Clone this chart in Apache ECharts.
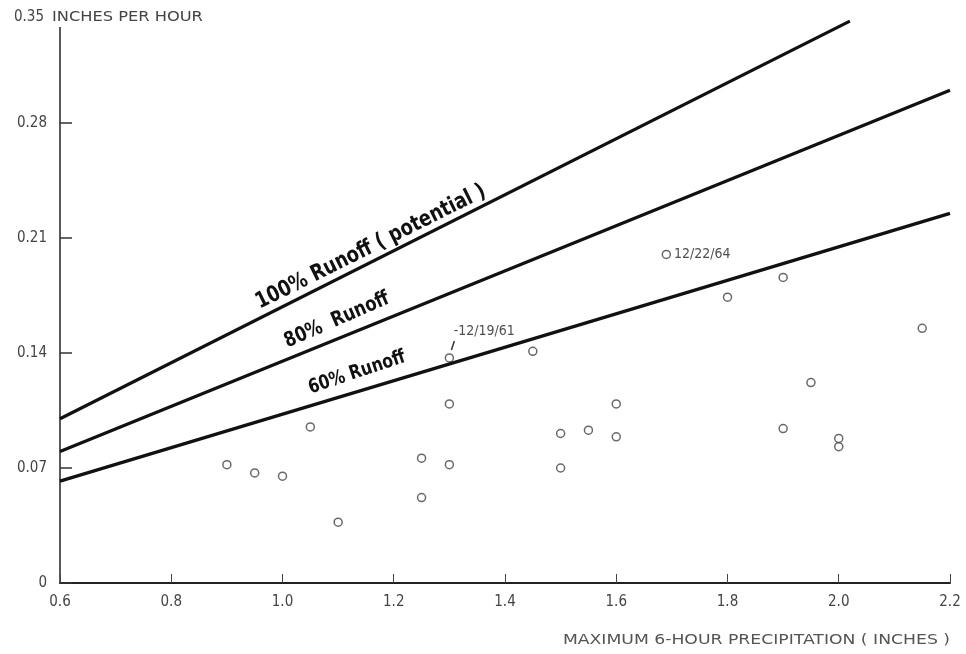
<!DOCTYPE html>
<html><head><meta charset="utf-8">
<script src="https://cdn.jsdelivr.net/npm/echarts@6/dist/echarts.min.js"></script>
<style>html,body{margin:0;padding:0;background:#fff}#c{width:966px;height:654px}</style>
</head><body><div id="c"></div>
<script>
// Data
const precip    = [0.90,0.95,1.00,1.05,1.10,1.25,1.25,1.30,1.30,1.30,1.45,1.50,1.50,1.55,1.60,1.60,1.69,1.80,1.90,1.90,1.95,2.00,2.00,2.15];
const intensity = [0.072,0.067,0.065,0.095,0.037,0.052,0.076,0.137,0.109,0.072,0.141,0.091,0.070,0.093,0.109,0.089,0.200,0.174,0.186,0.094,0.122,0.088,0.083,0.155];
const pointNotes = {7: '-12/19/61', 16: '12/22/64'};

const runoffNames = ['100% Runoff ( potential )', '80%  Runoff', '60% Runoff'];
const runoffX = [[0.6, 2.02], [0.6, 2.2], [0.6, 2.2]];
const runoffY = [[0.100, 0.342], [0.080, 0.300], [0.062, 0.225]];
// label anchor in data coords (center of text) and rotation in degrees
const runoffLabelAt = [[1.159, 0.2045], [1.098, 0.160], [1.134, 0.128]];
const runoffLabelRot = [26.5, 23.5, 18.5];
const runoffLabelSize = [20.5, 19, 18];

const xTicks = [0.6, 0.8, 1.0, 1.2, 1.4, 1.6, 1.8, 2.0, 2.2];
const yTicks = [0, 0.07, 0.14, 0.21, 0.28, 0.35];
const xTitle = 'MAXIMUM 6-HOUR PRECIPITATION ( INCHES )';
const yTitle = 'INCHES PER HOUR';

const FONT = "'Liberation Sans Narrow','DejaVu Sans Condensed','Liberation Sans',sans-serif";
const WIDE = "'DejaVu Sans','Liberation Sans',sans-serif";
const chart = echarts.init(document.getElementById('c'), null, {renderer: 'canvas'});

const scatterData = precip.map((x, i) => {
  const item = {value: [x, intensity[i]]};
  if (pointNotes[i]) {
    if (i === 7) {
      item.label = {show: true, formatter: pointNotes[i], position: [9, -29], align: 'left', verticalAlign: 'top',
        fontFamily: FONT, fontSize: 14, color: '#222'};
    } else {
      item.label = {show: true, formatter: pointNotes[i], position: 'right', distance: 3,
        fontFamily: FONT, fontSize: 14, color: '#222'};
    }
  }
  return item;
});

const series = [{
  type: 'scatter',
  data: scatterData,
  symbol: 'circle',
  symbolSize: 8,
  itemStyle: {color: '#fff', borderColor: '#444', borderWidth: 1.5},
  z: 2
}];
runoffNames.forEach((n, k) => {
  series.push({
    type: 'line', name: n,
    data: runoffX[k].map((x, j) => [x, runoffY[k][j]]),
    symbol: 'none',
    lineStyle: {color: '#111', width: 3.2},
    z: 3, silent: true
  });
});

chart.setOption({
  animation: false,
  backgroundColor: '#fff',
  grid: {left: 60, right: 16, top: 8, bottom: 71, containLabel: false},
  xAxis: {
    type: 'value', min: 0.6, max: 2.2, interval: 0.2,
    axisLine: {lineStyle: {color: '#222', width: 2}},
    axisTick: {inside: true, length: 9, lineStyle: {color: '#444', width: 1}},
    splitLine: {show: false},
    axisLabel: {margin: 12, fontFamily: FONT, fontSize: 15, color: '#444',
      formatter: v => (Math.round(v * 10) / 10).toFixed(1)}
  },
  yAxis: {
    type: 'value', min: 0, max: 0.35, interval: 0.07,
    axisLine: {show: true, lineStyle: {color: '#222', width: 1.5}},
    axisTick: {show: true, inside: true, length: 12, lineStyle: {color: '#333', width: 1.5}},
    splitLine: {show: false},
    axisLabel: {margin: 13, fontFamily: FONT, fontSize: 15, color: '#444',
      formatter: v => v === 0 ? '0' : (Math.abs(v - 0.35) < 1e-6 ? '' : v.toFixed(2))}
  },
  series: series
});

// Annotations positioned via the chart's own scales
const graphics = [];
runoffNames.forEach((n, k) => {
  const p = chart.convertToPixel({gridIndex: 0}, runoffLabelAt[k]);
  graphics.push({
    type: 'text', x: p[0], y: p[1], rotation: runoffLabelRot[k] * Math.PI / 180,
    scaleX: 0.97, scaleY: 1.08,
    style: {text: n, font: "bold " + runoffLabelSize[k] + "px " + FONT, fill: '#111', textAlign: 'center', textVerticalAlign: 'middle'},
    z: 10
  });
});
graphics.push({
  type: 'text', x: 44, y: 17,
  style: {text: '0.35', font: "15px " + FONT, fill: '#444', textAlign: 'right', textVerticalAlign: 'middle'},
  z: 10
});
graphics.push({
  type: 'rect', shape: {x: 50, y: 0, width: 30, height: 27}, style: {fill: '#fff'}, z: 9
});
graphics.push({
  type: 'text', x: 52, y: 17, scaleX: 1.16,
  style: {text: yTitle, font: "14px " + WIDE, fill: '#444', textAlign: 'left', textVerticalAlign: 'middle'},
  z: 10
});
const xEnd = chart.convertToPixel({gridIndex: 0}, [2.2, 0]);
graphics.push({
  type: 'text', x: xEnd[0], y: xEnd[1] + 57, scaleX: 1.23,
  style: {text: xTitle, font: "14px " + WIDE, fill: '#555', textAlign: 'right', textVerticalAlign: 'middle'},
  z: 10
});
const pk = chart.convertToPixel({gridIndex: 0}, [precip[7], intensity[7]]);
graphics.push({
  type: 'line', shape: {x1: pk[0] + 2, y1: pk[1] - 8, x2: pk[0] + 5, y2: pk[1] - 17},
  style: {stroke: '#333', lineWidth: 1.5}, z: 10
});
chart.setOption({graphic: graphics});
</script>
</body></html>
